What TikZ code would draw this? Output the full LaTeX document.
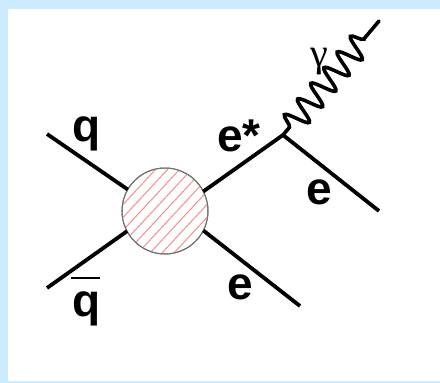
\documentclass[tikz,border=0pt]{standalone}
\usepackage{xcolor}
\usepackage{fontspec}
\setmainfont{Liberation Sans}
\newfontfamily\greekfont{Liberation Serif}
\usetikzlibrary{positioning, decorations.pathmorphing}
\definecolor{frame}{HTML}{CDEBFF}
\definecolor{hatch}{HTML}{F4908F}
\definecolor{rim}{HTML}{707070}

\begin{document}
\begin{tikzpicture}[
    x=1pt, y=-1pt,
    every node/.style={inner sep=0pt, outer sep=0pt},
    label/.style={font=\fontsize{46}{46}\selectfont\bfseries, text=black},
    fermion/.style={line width=3.8pt, black},
    photon/.style={line width=3.6pt, black, line cap=round, decorate,
      decoration={snake, segment length=20.5pt, amplitude=12pt, pre length=10pt, post length=14pt}},
    blob/.style={circle, draw=rim, line width=1pt, minimum size=86pt, fill=white}
]

  \fill[frame] (0,0) rectangle (440,383);
  \fill[white] (8,9) rectangle (440,381);
  \useasboundingbox (0,0) rectangle (440,383);

  \node[blob] (blob) at (165,211) {};
  \begin{scope}
    \clip (165,211) circle (42.5);
    \foreach \s in {-9,...,9}
      \draw[hatch, line width=1pt] (165-65+\s*12,211+70) -- ++(130,-140);
  \end{scope}
  \node[blob, fill=none] (rim) at (165,211) {};

  \coordinate (qin) at (47,134);
  \coordinate (qbarin) at (47,288);
  \coordinate (vertex) at (283,135);
  \coordinate (eout) at (300,306);
  \coordinate (estarout) at (379,211);
  \coordinate (phend) at (379,21);
  \coordinate (barl) at (71,278);
  \coordinate (barr) at (100,278);

  \draw[fermion] (qin) -- (blob.150);
  \draw[fermion] (qbarin) -- (blob.208);
  \draw[fermion] (blob.27) -- (vertex);
  \draw[fermion] (blob.-27) -- (eout);
  \draw[fermion] (vertex) -- (estarout);
  \draw[photon] (vertex) -- (phend);
  \draw[line width=1.4pt] (barl) -- (barr);

  \node[label] (q) at (86.5,134) {q};
  \node[label] (qbar) at (86.5,309) {q};
  \node[label] (estar) at (239,136) {e*};
  \node[label] (e1) at (319,192.5) {e};
  \node[label] (e2) at (240,287.5) {e};
  \node (gamma) at (319,62) {\greekfont\fontsize{40}{40}\selectfont γ};
\end{tikzpicture}
\end{document}
